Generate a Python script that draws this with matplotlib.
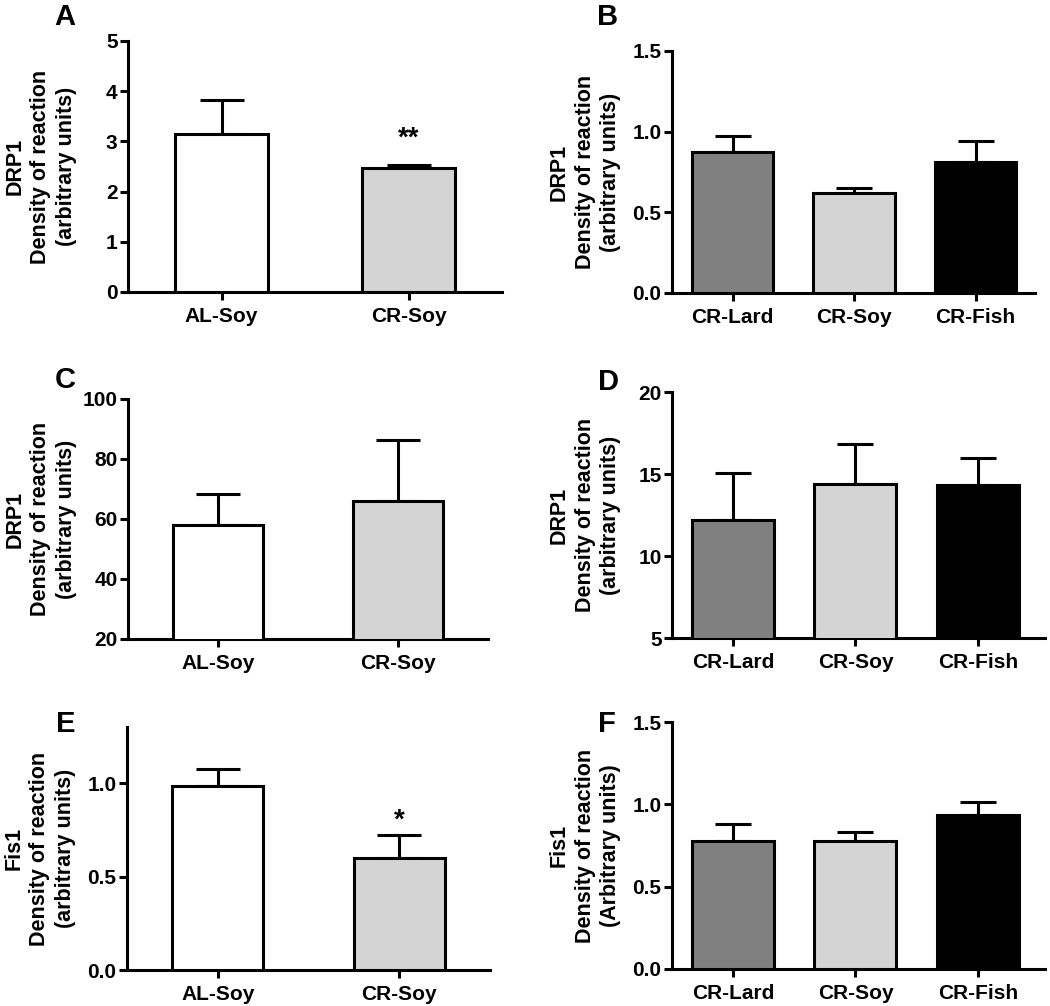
import matplotlib
matplotlib.use("Agg")
import matplotlib.pyplot as plt

plt.rcParams['font.family'] = ['Liberation Sans', 'DejaVu Sans']
plt.rcParams['font.weight'] = 'bold'

# groups and fills
groups2 = ["AL-Soy", "CR-Soy"]
groups3 = ["CR-Lard", "CR-Soy", "CR-Fish"]
colors2 = ["white", "#d4d4d4"]
colors3 = ["#808080", "#d4d4d4", "black"]

# means and upper errors
a_mean = [3.15, 2.48]
a_err = [0.68, 0.05]
b_mean = [0.875, 0.62, 0.81]
b_err = [0.10, 0.03, 0.13]
c_mean = [58.0, 66.1]
c_err = [10.2, 20.2]
d_mean = [12.2, 14.37, 14.35]
d_err = [2.87, 2.45, 1.64]
e_mean = [0.987, 0.598]
e_err = [0.088, 0.125]
f_mean = [0.78, 0.78, 0.935]
f_err = [0.10, 0.052, 0.081]

a_ticks = [0, 1, 2, 3, 4, 5]
b_ticks = [0.0, 0.5, 1.0, 1.5]
c_ticks = [20, 40, 60, 80, 100]
d_ticks = [5, 10, 15, 20]
e_ticks = [0.0, 0.5, 1.0]
f_ticks = [0.0, 0.5, 1.0, 1.5]

W, H = 1050, 1006
fig = plt.figure(figsize=(W / 100, H / 100), dpi=100)
LW = 2.2


def panel(box, letter, letter_xy, groups, colors, means, errs, ylim, yticks,
          fmt, ylabel, xright, width, capsize, stars=None):
    left, right, top, bottom = box
    ax = fig.add_axes([left / W, 1 - bottom / H, (right - left) / W, (bottom - top) / H])
    x = list(range(len(groups)))
    ax.bar(x, means, width=width, color=colors, edgecolor="black",
           linewidth=LW, zorder=3)
    ax.errorbar(x, means, yerr=[[0] * len(errs), errs], fmt="none",
                ecolor="black", elinewidth=LW, capsize=capsize,
                capthick=LW, zorder=2)
    ax.set_xlim(-0.5, xright)
    ax.set_ylim(*ylim)
    ax.set_yticks(yticks)
    ax.set_yticklabels([fmt.format(t) for t in yticks])
    ax.set_xticks(x)
    ax.set_xticklabels(groups)
    for s in ["top", "right"]:
        ax.spines[s].set_visible(False)
    for s in ["left", "bottom"]:
        ax.spines[s].set_linewidth(LW)
    ax.tick_params(axis="both", width=LW, length=6, labelsize=15)
    ax.tick_params(axis="y", pad=1.5)
    ax.tick_params(axis="x", pad=5)
    if stars:
        ax.text(stars[0], stars[1], stars[2], ha="center", va="center",
                fontsize=20, fontweight="bold")
    fig.text((left - 87) / W, 1 - (top + bottom) / 2 / H, ylabel,
             rotation=90, ha="center", va="center", fontsize=15.5,
             fontweight="bold", multialignment="center", linespacing=1.3)
    fig.text(letter_xy[0] / W, 1 - letter_xy[1] / H, letter, ha="center",
             va="baseline", fontsize=21, fontweight="bold")
    return ax


lab_drp = "DRP1\nDensity of reaction\n(arbitrary units)"
lab_fis = "Fis1\nDensity of reaction\n(arbitrary units)"
lab_fis2 = "Fis1\nDensity of reaction\n(Arbitrary units)"

panel((128, 502, 41, 292), "A", (65, 25), groups2, colors2, a_mean, a_err,
      (0, 5), a_ticks, "{:g}", lab_drp, 1.5, 0.5, 16, stars=(1, 3.05, "**"))
panel((672, 1035, 51, 293), "B", (608, 25), groups3, colors3, b_mean, b_err,
      (0, 1.5), b_ticks, "{:.1f}", lab_drp, 2.49, 0.67, 13)
panel((128, 488, 399, 639), "C", (65, 388), groups2, colors2, c_mean, c_err,
      (20, 100), c_ticks, "{:g}", lab_drp, 1.5, 0.5, 16)
panel((672, 1045, 392, 638), "D", (608, 390), groups3, colors3, d_mean, d_err,
      (5, 20), d_ticks, "{:g}", lab_drp, 2.55, 0.67, 13)
panel((127, 490, 727, 970), "E", (66, 732), groups2, colors2, e_mean, e_err,
      (0, 1.3), e_ticks, "{:.1f}", lab_fis, 1.5, 0.5, 16, stars=(1, 0.8, "*"))
panel((672, 1045, 722, 969), "F", (607, 732), groups3, colors3, f_mean, f_err,
      (0, 1.5), f_ticks, "{:.1f}", lab_fis2, 2.55, 0.67, 13)

fig.savefig("out.png", dpi=100)
